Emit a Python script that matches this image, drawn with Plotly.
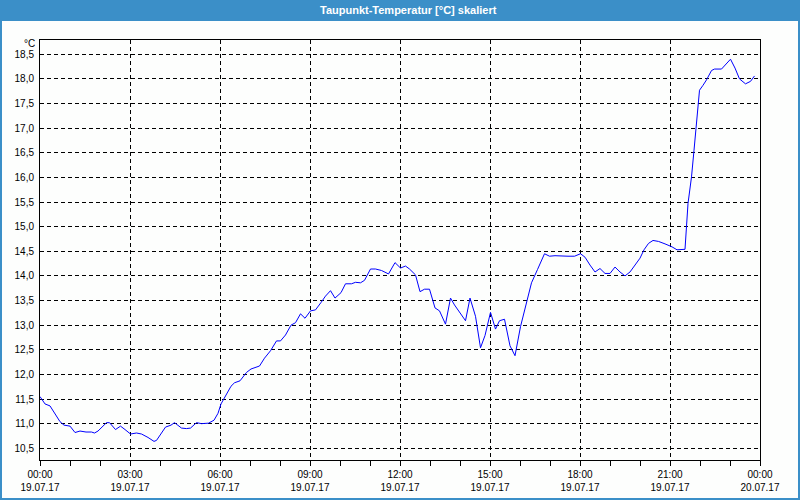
import plotly.graph_objects as go

# ---- data ----
times = ["00:00","00:10","00:20","00:25","00:40","00:48","01:00","01:10","01:20","01:32",
         "01:43","01:49","01:56","02:13","02:19","02:31","02:41","02:50","03:01","03:13",
         "03:23","03:36","03:48","03:53","04:02","04:11","04:22","04:29","04:43","04:53",
         "05:01","05:13","05:23","05:37","05:48","05:56","06:02","06:08","06:22","06:29",
         "06:40","06:53","07:02","07:19","07:29","07:41","07:53","08:01","08:11","08:22",
         "08:31","08:41","08:50","09:01","09:11","09:22","09:31","09:41","09:50","10:02",
         "10:11","10:23","10:31","10:41","10:49","11:01","11:11","11:23","11:37","11:50",
         "12:01","12:11","12:19","12:31","12:40","12:49","12:59","13:10","13:19","13:31",
         "13:41","13:49","14:01","14:11","14:20","14:31","14:41","14:50","15:01","15:11",
         "15:19","15:29","15:40","15:50","16:01","16:13","16:23","16:35","16:49","16:59",
         "17:10","17:36","17:49","18:01","18:10","18:20","18:30","18:40","18:50","19:00",
         "19:10","19:20","19:30","19:40","19:50","20:00","20:08","20:17","20:26","20:37",
         "20:50","21:04","21:14","21:30","21:36","21:43","21:48","21:53","21:56","21:59",
         "22:06","22:13","22:23","22:29","22:43","23:01","23:10","23:19","23:31","23:41",
         "23:49"]
values = [11.55,11.40,11.36,11.28,11.04,10.97,10.95,10.82,10.85,10.83,
          10.83,10.81,10.85,11.02,11.02,10.88,10.95,10.88,10.79,10.81,
          10.79,10.72,10.64,10.66,10.80,10.93,10.97,11.02,10.91,10.90,
          10.91,11.02,11.00,11.01,11.07,11.21,11.40,11.50,11.76,11.83,
          11.87,12.04,12.11,12.17,12.33,12.48,12.68,12.68,12.80,13.00,
          13.05,13.23,13.14,13.29,13.31,13.46,13.59,13.70,13.55,13.66,
          13.84,13.84,13.87,13.86,13.91,14.14,14.14,14.11,14.04,14.27,
          14.16,14.20,14.14,14.02,13.68,13.73,13.73,13.35,13.29,13.02,
          13.55,13.41,13.24,13.09,13.55,13.18,12.54,12.79,13.26,12.92,
          13.09,13.12,12.58,12.38,12.97,13.48,13.86,14.13,14.45,14.40,
          14.41,14.40,14.40,14.45,14.38,14.22,14.08,14.15,14.05,14.05,
          14.18,14.08,14.00,14.08,14.22,14.36,14.53,14.66,14.72,14.70,
          14.65,14.59,14.53,14.54,15.47,16.01,16.55,17.09,17.50,17.77,
          17.87,17.98,18.17,18.20,18.20,18.40,18.22,18.00,17.90,17.95,
          18.06]

tick_times = ["00:00","03:00","06:00","09:00","12:00","15:00","18:00","21:00","00:00"]
tick_dates = ["19.07.17","19.07.17","19.07.17","19.07.17","19.07.17","19.07.17","19.07.17","19.07.17","20.07.17"]
tick_iso = ["2017-07-19 00:00","2017-07-19 03:00","2017-07-19 06:00","2017-07-19 09:00",
            "2017-07-19 12:00","2017-07-19 15:00","2017-07-19 18:00","2017-07-19 21:00",
            "2017-07-20 00:00"]
y_ticks = [10.5,11.0,11.5,12.0,12.5,13.0,13.5,14.0,14.5,15.0,15.5,16.0,16.5,17.0,17.5,18.0,18.5]
title_text = "Taupunkt-Temperatur [°C] skaliert"
unit_text = "°C"

x = ["2017-07-19 " + t for t in times]
minor_vals = ["2017-07-19 %02d:00" % h for h in range(24)] + ["2017-07-20 00:00"]

BLUE = "#3b8fc8"
BG = "#fdfefd"
FONT = "Liberation Sans"

fig = go.Figure()
fig.add_trace(go.Scatter(x=x, y=values, mode="lines",
                         line=dict(color="#0000ff", width=1), showlegend=False))

fig.update_layout(
    width=800, height=500,
    margin=dict(l=40, r=40, t=40, b=40, autoexpand=False),
    paper_bgcolor=BLUE, plot_bgcolor=BG,
    separators=",.",
    font=dict(family=FONT, size=10, color="#000000"),
    xaxis=dict(
        type="date", automargin=False,
        range=["2017-07-19 00:00", "2017-07-20 00:00"],
        tickmode="array", tickvals=tick_iso,
        ticktext=[a + "<br>" + b for a, b in zip(tick_times, tick_dates)],
        ticks="outside", ticklen=5, tickcolor="black", tickwidth=1,
        ticklabelstandoff=0,
        showline=True, linecolor="black", linewidth=1, mirror=True,
        showgrid=True, gridcolor="black", gridwidth=1, griddash="4px,3px",
        minor=dict(tickmode="array", tickvals=minor_vals, ticks="outside",
                   ticklen=5, tickcolor="black", tickwidth=1, showgrid=False),
        tickfont=dict(family=FONT, size=10, color="#000000"),
        zeroline=False, fixedrange=True,
    ),
    yaxis=dict(
        range=[10.262, 18.79], automargin=False,
        tickmode="array", tickvals=y_ticks, tickformat=".1f",
        ticks="", ticklabelstandoff=3,
        showline=True, linecolor="black", linewidth=1, mirror=True,
        showgrid=True, gridcolor="black", gridwidth=1, griddash="4px,3px",
        tickfont=dict(family=FONT, size=10, color="#000000"),
        zeroline=False, fixedrange=True,
    ),
    shapes=[dict(type="rect", xref="paper", yref="paper",
                 x0=(2 - 40) / 720, x1=(798 - 40) / 720,
                 y0=(460 - 498) / 420, y1=(460 - 21) / 420,
                 fillcolor=BG, line=dict(width=0), layer="below")],
    annotations=[
        dict(text=title_text, xref="paper", yref="paper",
             x=(409 - 40) / 720, y=(460 - 10) / 420, xanchor="center", yanchor="middle",
             showarrow=False, font=dict(family=FONT, size=11, color="white", weight="bold")),
        dict(text=unit_text, xref="paper", yref="paper",
             x=(37 - 40) / 720, y=(460 - 44) / 420, xanchor="right", yanchor="middle",
             showarrow=False, font=dict(family=FONT, size=10, color="black")),
    ],
)

fig.write_html("out.html")
